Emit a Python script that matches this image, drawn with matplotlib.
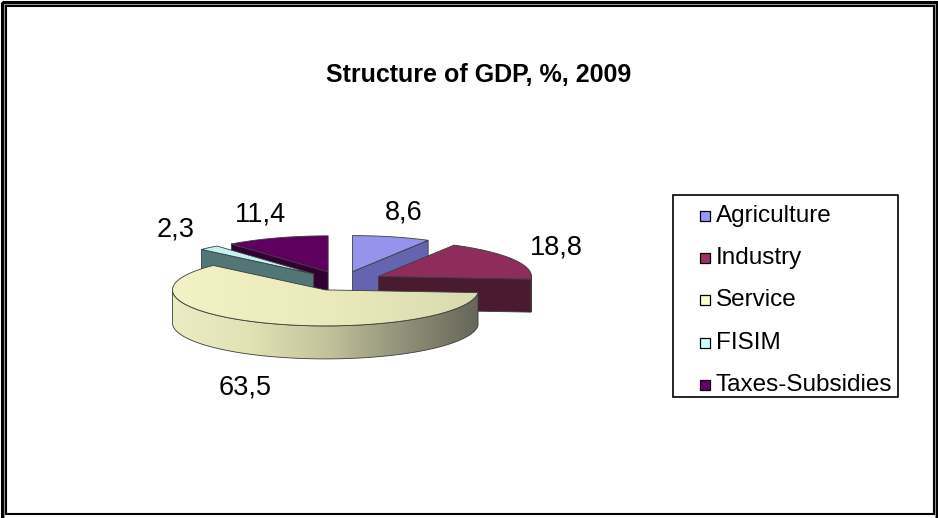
import numpy as np
import matplotlib
matplotlib.use("Agg")
import matplotlib.pyplot as plt
from matplotlib.patches import Polygon, Rectangle
from matplotlib.colors import LinearSegmentedColormap

# ---- data ----
categories = ["Agriculture", "Industry", "Service", "FISIM", "Taxes-Subsidies"]
values = [8.6, 18.8, 63.5, 2.3, 11.4]
value_labels = ["8,6", "18,8", "63,5", "2,3", "11,4"]
title = "Structure of GDP, %, 2009"

# ---- styling ----
legend_colors = ["#9999FF", "#993366", "#FFFFCC", "#CCFFFF", "#660066"]
top_colors = ["#9494EC", "#8E2D5B", "#EEEEC0", "#C4F2F2", "#5E005E"]
side_colors = [["#6464B0", "#5A5AA0"], ["#4A1A31", "#3E1428"],
               ["#ECECC4", "#E2E2B6", "#C4C49C", "#92927A", "#66665A"],
               ["#527676", "#4A6C6C"], ["#330033", "#2A002A"]]
top_gradients = [None, None, ["#F2F2C6", "#EAEABC", "#DADAB0"], None, None]
edge_col = "#3C3C3C"
font = "Liberation Sans"

W, H = 938, 518
fig = plt.figure(figsize=(W / 100, H / 100), dpi=100)
ax = fig.add_axes([0, 0, 1, 1])

# pie geometry in pixel units of the canvas axes
cx, cy = 342.0, 281.0
rx, ry = 153.0, 36.0
depth = 33.0
explode = 0.27

total = float(sum(values))
spans = np.array(values) / total * 360.0
a_hi = 90.0 - np.concatenate([[0.0], np.cumsum(spans)[:-1]])
a_lo = a_hi - spans


def rim(c, ang, dz=0.0):
    t = np.radians(ang)
    return np.column_stack([c[0] + rx * np.cos(t), c[1] - ry * np.sin(t) + dz])


def gradient_fill(poly_xy, colors, zorder):
    x0, x1 = poly_xy[:, 0].min(), poly_xy[:, 0].max()
    y0, y1 = poly_xy[:, 1].min(), poly_xy[:, 1].max()
    cmap = LinearSegmentedColormap.from_list("g", colors)
    grad = cmap(np.linspace(0, 1, 256))[None, :, :]
    im = ax.imshow(grad, extent=(x0, x1, y1, y0), aspect="auto",
                   interpolation="bilinear", zorder=zorder)
    clip = Polygon(poly_xy, closed=True, facecolor="none", edgecolor="none",
                   transform=ax.transData)
    ax.add_patch(clip)
    im.set_clip_path(clip)
    ax.add_patch(Polygon(poly_xy, closed=True, facecolor="none",
                         edgecolor=edge_col, lw=0.6, zorder=zorder + 0.01))


def flat_fill(poly_xy, color, zorder):
    ax.add_patch(Polygon(poly_xy, closed=True, facecolor=color,
                         edgecolor=edge_col, lw=0.6, zorder=zorder))


mids = (a_hi + a_lo) / 2.0
order = np.argsort(-np.sin(np.radians(mids)))  # back slices first
z = 1.0
label_pos = {}
for i in order:
    lo, hi, mid = a_lo[i], a_hi[i], mids[i]
    tm = np.radians(mid)
    c = (cx + explode * rx * np.cos(tm), cy - explode * ry * np.sin(tm))
    ctr = np.array([c])
    ctr_b = ctr + [0, depth]

    # radial faces that look towards the viewer
    for ang, vis in ((lo, np.cos(np.radians(lo)) > 1e-6),
                     (hi, np.cos(np.radians(hi)) < -1e-6)):
        if vis:
            face = np.vstack([ctr, rim(c, [ang]), rim(c, [ang], depth), ctr_b])
            flat_fill(face, side_colors[i][0], z)
            z += 0.1

    # outer curved wall, front half only
    angs = np.linspace(lo, hi, 400)
    front = np.sin(np.radians(angs)) < 0
    if front.any():
        idx = np.where(front)[0]
        for seg in np.split(idx, np.where(np.diff(idx) > 1)[0] + 1):
            a_seg = angs[seg]
            wall = np.vstack([rim(c, a_seg), rim(c, a_seg[::-1], depth)])
            gradient_fill(wall, side_colors[i], z)
            z += 0.1

    # top face
    top = np.vstack([ctr, rim(c, np.linspace(lo, hi, 200))])
    if top_gradients[i] is not None:
        gradient_fill(top, top_gradients[i], z)
    else:
        flat_fill(top, top_colors[i], z)
    z += 0.1

    # value label outside the slice
    lx = c[0] + 1.32 * rx * np.cos(tm)
    ly = c[1] - 1.7 * ry * np.sin(tm) + (depth + 8 if np.sin(tm) < 0 else 0)
    label_pos[i] = (lx, ly)

for i, (lx, ly) in label_pos.items():
    ax.text(lx, ly, value_labels[i], ha="center", va="center",
            fontsize=19.5, family=font, color="black", zorder=50)

# title
ax.text(479, 75, title, ha="center", va="center", fontsize=18,
        fontweight="bold", family=font, zorder=50)

# legend
lg_x0, lg_y0, lg_x1, lg_y1 = 673, 195, 898, 397
ax.add_patch(Rectangle((lg_x0, lg_y0), lg_x1 - lg_x0, lg_y1 - lg_y0,
                       facecolor="white", edgecolor="black", lw=1.2, zorder=40))
for k, (name, col) in enumerate(zip(categories, legend_colors)):
    yk = 216 + k * 42.2
    ax.add_patch(Rectangle((700, yk - 5), 10, 10, facecolor=col,
                           edgecolor="black", lw=0.9, zorder=41))
    ax.text(716, yk, name, ha="left", va="center", fontsize=17.5,
            family=font, zorder=41)

# chart frame: double outer border and inner border
ax.add_patch(Rectangle((1.5, 1.5), W - 3, H + 20, facecolor="none",
                       edgecolor="black", lw=2.2, zorder=60))
ax.add_patch(Rectangle((3.8, 3.8), W - 7.2, H + 20, facecolor="none",
                       edgecolor="#9A9A9A", lw=0.8, zorder=60))
ax.add_patch(Rectangle((6, 6), 927.5, 508, facecolor="none",
                       edgecolor="black", lw=1.5, zorder=60))

ax.set_xlim(0, W)
ax.set_ylim(H, 0)
ax.axis("off")
fig.savefig("out.png", dpi=100, facecolor="white")
